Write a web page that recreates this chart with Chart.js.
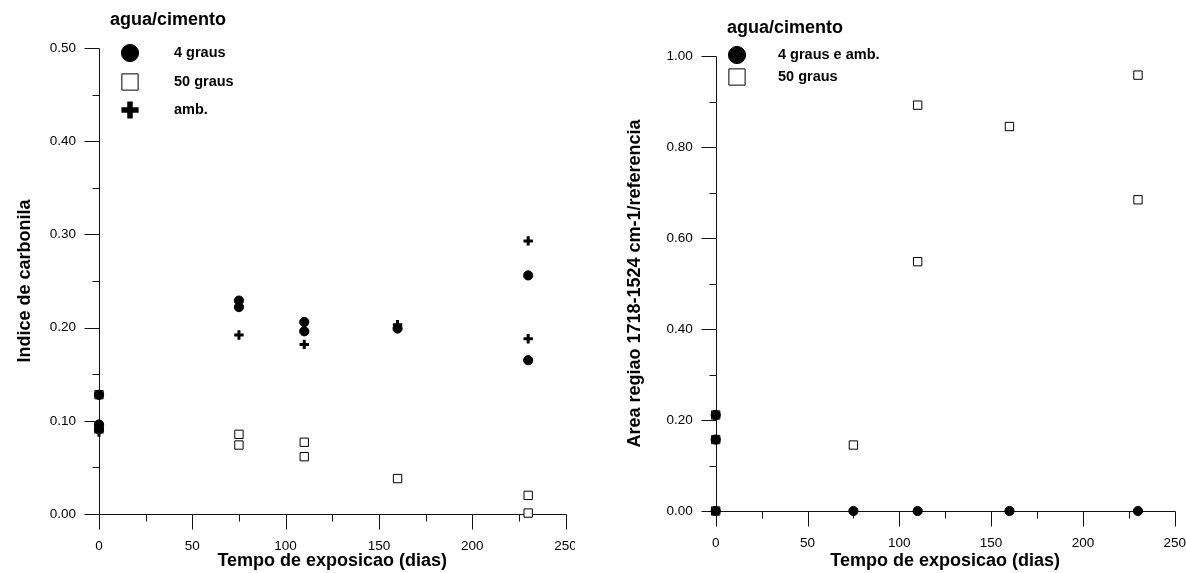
<!DOCTYPE html>
<html>
<head>
<meta charset="utf-8">
<script src="https://cdn.jsdelivr.net/npm/chart.js@4.4.1/dist/chart.umd.min.js"></script>
<style>
html,body{margin:0;padding:0;background:#fff;}
#wrap{position:relative;width:1186px;height:573px;overflow:hidden;background:#fff;}
#c1{position:absolute;left:0;top:0;width:575px;height:573px;}
#c2{position:absolute;left:575px;top:0;width:611px;height:573px;}
</style>
</head>
<body>
<div id="wrap">
<canvas id="c1" width="575" height="573"></canvas>
<canvas id="c2" width="611" height="573"></canvas>
</div>
<script>
// ---------- DATA ----------
// Left chart: Indice de carbonila
const carb4Days   = [0, 0, 0, 75, 75, 110, 110, 160, 230, 230];
const carb4Vals   = [0.128, 0.096, 0.091, 0.229, 0.222, 0.206, 0.196, 0.199, 0.256, 0.165];
const carb50Days  = [0, 0, 75, 75, 110, 110, 160, 230, 230];
const carb50Vals  = [0.128, 0.093, 0.0855, 0.074, 0.077, 0.0615, 0.038, 0.020, 0.001];
const carbAmbDays = [0, 0, 75, 110, 160, 230, 230];
const carbAmbVals = [0.128, 0.088, 0.192, 0.182, 0.203, 0.293, 0.188];

// Right chart: Area regiao 1718-1524 cm-1/referencia
const area4Days   = [0, 0, 0, 75, 110, 160, 230];
const area4Vals   = [0.211, 0.157, 0, 0, 0, 0, 0];
const area50Days  = [0, 0, 0, 75, 110, 110, 160, 230, 230];
const area50Vals  = [0.211, 0.157, 0, 0.145, 0.892, 0.548, 0.845, 0.958, 0.684];

// Ticks
const xMajorTicks    = [0, 50, 100, 150, 200, 250];
const xMinorTicks    = [25, 75, 125, 175, 225];
const carbMajorTicks = [0, 0.1, 0.2, 0.3, 0.4, 0.5];
const carbMinorTicks = [0.05, 0.15, 0.25, 0.35, 0.45];
const areaMajorTicks = [0, 0.2, 0.4, 0.6, 0.8, 1.0];
const areaMinorTicks = [0.1, 0.3, 0.5, 0.7, 0.9];

// Labels
const xTitle = 'Tempo de exposicao (dias)';
const carbTitle = 'Indice de carbonila';
const areaTitle = 'Area regiao 1718-1524 cm-1/referencia';
const legendTitle = 'agua/cimento';
const carbLabels = ['4 graus', '50 graus', 'amb.'];
const areaLabels = ['4 graus e amb.', '50 graus'];

// ---------- HELPERS ----------
const FONT = "'Liberation Sans', Arial, Helvetica, sans-serif";
const pts = (xs, ys) => xs.map((x, i) => ({x: x, y: ys[i]}));

const circleStyle = {pointStyle: 'circle', pointRadius: 4.6, pointBackgroundColor: '#000', pointBorderColor: '#000', pointBorderWidth: 1};
const squareStyle = {pointStyle: 'rect', pointRadius: 5.9, pointBackgroundColor: '#fff', pointBorderColor: '#000', pointBorderWidth: 1};
const plusStyle   = {pointStyle: 'cross', pointRadius: 4.7, pointBackgroundColor: '#000', pointBorderColor: '#000', pointBorderWidth: 3};

const axesPlugin = {
  id: 'axesDraw',
  beforeDatasetsDraw(chart, args, o) {
    const {ctx} = chart;
    const xs = chart.scales.x, ys = chart.scales.y;
    const x0 = Math.round(xs.getPixelForValue(0)) + 0.5;
    const y0 = Math.round(ys.getPixelForValue(0)) + 0.5;
    const yTop = Math.round(ys.getPixelForValue(ys.max)) + 0.5;
    const xRight = Math.round(xs.getPixelForValue(xs.max)) + 0.5;
    ctx.save();
    ctx.strokeStyle = '#111';
    ctx.lineWidth = 1;
    ctx.beginPath();
    ctx.moveTo(x0, yTop); ctx.lineTo(x0, y0);
    ctx.moveTo(x0, y0); ctx.lineTo(xRight, y0);
    o.yMajor.forEach(v => { const p = Math.round(ys.getPixelForValue(v)) + 0.5; ctx.moveTo(x0 - 15, p); ctx.lineTo(x0, p); });
    o.yMinor.forEach(v => { const p = Math.round(ys.getPixelForValue(v)) + 0.5; ctx.moveTo(x0 - 7, p); ctx.lineTo(x0, p); });
    o.xMajor.forEach(v => { const p = Math.round(xs.getPixelForValue(v)) + 0.5; ctx.moveTo(p, y0); ctx.lineTo(p, y0 + 15); });
    o.xMinor.forEach(v => { const p = Math.round(xs.getPixelForValue(v)) + 0.5; ctx.moveTo(p, y0); ctx.lineTo(p, y0 + 7); });
    ctx.stroke();
    ctx.restore();
  }
};

const legendPlugin = {
  id: 'customLegend',
  afterDraw(chart, args, o) {
    const {ctx} = chart;
    ctx.save();
    ctx.fillStyle = '#000';
    ctx.textBaseline = 'middle';
    ctx.textAlign = 'left';
    ctx.font = 'bold 18px ' + FONT;
    ctx.fillText(o.title, o.titleX, o.titleY);
    ctx.font = 'bold 14.5px ' + FONT;
    o.items.forEach(it => {
      const ds = chart.data.datasets[it.ds];
      ctx.fillStyle = ds.pointBackgroundColor;
      ctx.strokeStyle = ds.pointBorderColor;
      ctx.lineWidth = it.bw;
      Chart.helpers.drawPoint(ctx, {pointStyle: ds.pointStyle, radius: it.r, rotation: 0, borderWidth: it.bw}, o.markX, it.y);
      ctx.fillStyle = '#000';
      ctx.fillText(it.label, o.labelX, it.y);
    });
    ctx.restore();
  }
};

function makeScales(yMin, yMax, yMajor, yTitleText, yWidth, xHeight, yTitlePad, xTickPad) {
  return {
    x: {
      type: 'linear', min: 0, max: 250,
      afterBuildTicks: s => { s.ticks = xMajorTicks.map(v => ({value: v})); },
      afterFit: s => { s.height = xHeight; s.paddingLeft = 0; s.paddingRight = 0; },
      grid: {display: false, drawTicks: false},
      border: {display: false},
      ticks: {color: '#000', font: {family: FONT, size: 13.5}, padding: xTickPad, maxRotation: 0, autoSkip: false, callback: v => String(v)},
      title: {display: true, text: xTitle, color: '#000', font: {family: FONT, size: 18, weight: 'bold'}, padding: {top: 0, bottom: 1.2}}
    },
    y: {
      type: 'linear', min: yMin, max: yMax,
      afterBuildTicks: s => { s.ticks = yMajor.map(v => ({value: v})); },
      afterFit: s => { s.width = yWidth; s.paddingTop = 0; s.paddingBottom = 0; },
      grid: {display: false, drawTicks: false},
      border: {display: false},
      ticks: {color: '#000', font: {family: FONT, size: 13.5}, padding: 23, autoSkip: false, callback: v => Number(v).toFixed(2)},
      title: {display: true, text: yTitleText, color: '#000', font: {family: FONT, size: 18, weight: 'bold'}, padding: {top: yTitlePad, bottom: 0}}
    }
  };
}

// ---------- LEFT CHART ----------
new Chart(document.getElementById('c1'), {
  type: 'scatter',
  data: {
    datasets: [
      Object.assign({label: carbLabels[0], data: pts(carb4Days, carb4Vals), order: 1, clip: false}, circleStyle),
      Object.assign({label: carbLabels[1], data: pts(carb50Days, carb50Vals), order: 2, clip: false}, squareStyle),
      Object.assign({label: carbLabels[2], data: pts(carbAmbDays, carbAmbVals), order: 0, clip: false}, plusStyle)
    ]
  },
  options: {
    responsive: false, animation: false, devicePixelRatio: 1,
    layout: {padding: {left: 0, top: 48, right: 9.5, bottom: 0}},
    plugins: {
      legend: {display: false}, tooltip: {enabled: false},
      axesDraw: {xMajor: xMajorTicks, xMinor: xMinorTicks, yMajor: carbMajorTicks, yMinor: carbMinorTicks},
      customLegend: {
        title: legendTitle, titleX: 110, titleY: 20, markX: 130, labelX: 174,
        items: [
          {ds: 0, y: 53, r: 8.6, bw: 1, label: carbLabels[0]},
          {ds: 1, y: 82, r: 11.5, bw: 1, label: carbLabels[1]},
          {ds: 2, y: 110, r: 8.6, bw: 5.5, label: carbLabels[2]}
        ]
      }
    },
    scales: makeScales(0, 0.5, carbMajorTicks, carbTitle, 99, 59, 14.2, 24)
  },
  plugins: [axesPlugin, legendPlugin]
});

// ---------- RIGHT CHART ----------
new Chart(document.getElementById('c2'), {
  type: 'scatter',
  data: {
    datasets: [
      Object.assign({label: areaLabels[0], data: pts(area4Days, area4Vals), order: 0, clip: false}, circleStyle),
      Object.assign({label: areaLabels[1], data: pts(area50Days, area50Vals), order: 1, clip: false}, squareStyle)
    ]
  },
  options: {
    responsive: false, animation: false, devicePixelRatio: 1,
    layout: {padding: {left: 0, top: 56, right: 11.3, bottom: 0}},
    plugins: {
      legend: {display: false}, tooltip: {enabled: false},
      axesDraw: {xMajor: xMajorTicks, xMinor: xMinorTicks, yMajor: areaMajorTicks, yMinor: areaMinorTicks},
      customLegend: {
        title: legendTitle, titleX: 152, titleY: 28, markX: 162, labelX: 203,
        items: [
          {ds: 0, y: 55, r: 8.6, bw: 1, label: areaLabels[0]},
          {ds: 1, y: 77, r: 11.5, bw: 1, label: areaLabels[1]}
        ]
      }
    },
    scales: makeScales(0, 1.0, areaMajorTicks, areaTitle, 140.7, 62, 49.2, 24)
  },
  plugins: [axesPlugin, legendPlugin]
});
</script>
</body>
</html>
